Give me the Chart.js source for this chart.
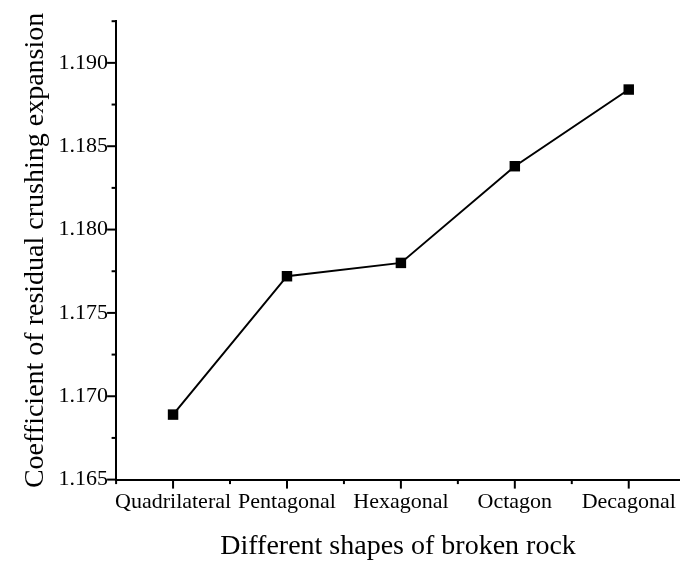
<!DOCTYPE html>
<html>
<head>
<meta charset="utf-8">
<script src="https://cdn.jsdelivr.net/npm/chart.js@4.4.1/dist/chart.umd.min.js"></script>
<style>
  html, body { margin: 0; padding: 0; background: #fff; overflow: hidden; }
  #wrap { width: 680px; height: 561px; }
</style>
</head>
<body>
<div id="wrap"><canvas id="c" width="680" height="561"></canvas></div>
<script>
const categories = ['Quadrilateral', 'Pentagonal', 'Hexagonal', 'Octagon', 'Decagonal'];
const values = [1.1689, 1.1772, 1.1780, 1.1838, 1.1884];
const yMajorTicks = [1.165, 1.170, 1.175, 1.180, 1.185, 1.190];
const yMinorTicks = [1.1675, 1.1725, 1.1775, 1.1825, 1.1875, 1.1925];
const xMinorTicks = [-0.5, 0.5, 1.5, 2.5, 3.5];
const yTitle = 'Coefficient of residual crushing expansion';
const xTitle = 'Different shapes of broken rock';

const FONT = "'Liberation Serif', 'Times New Roman', serif";
const xMajorTicks = categories.map((_, i) => i);

const tickPlugin = {
  id: 'customTicks',
  afterDraw(chart) {
    const ctx = chart.ctx;
    const area = chart.chartArea;
    const xs = chart.scales.x, ys = chart.scales.y;
    ctx.save();
    ctx.strokeStyle = '#000';
    ctx.lineWidth = 2;
    ys.ticks.forEach(t => {
      const major = yMajorTicks.some(v => Math.abs(v - t.value) < 1e-7);
      const py = ys.getPixelForValue(t.value);
      const len = major ? 9 : 4.5;
      ctx.beginPath();
      ctx.moveTo(area.left, py);
      ctx.lineTo(area.left - len, py);
      ctx.stroke();
    });
    xs.ticks.forEach(t => {
      const major = xMajorTicks.some(v => Math.abs(v - t.value) < 1e-7);
      const px = xs.getPixelForValue(t.value);
      const len = major ? 9 : 4.5;
      ctx.beginPath();
      ctx.moveTo(px, area.bottom);
      ctx.lineTo(px, area.bottom + len);
      ctx.stroke();
    });
    ctx.restore();
  }
};

new Chart(document.getElementById('c'), {
  type: 'line',
  data: {
    datasets: [{
      data: values.map((v, i) => ({ x: i, y: v })),
      borderColor: '#000',
      backgroundColor: '#000',
      borderWidth: 2,
      pointStyle: 'rect',
      pointRadius: 7.4,
      pointHoverRadius: 7.4,
      pointBorderWidth: 0,
      tension: 0,
      clip: false
    }]
  },
  options: {
    responsive: false,
    animation: false,
    devicePixelRatio: 1,
    layout: { autoPadding: false, padding: { left: 19, top: 20, right: 0, bottom: 0 } },
    plugins: { legend: { display: false }, tooltip: { enabled: false } },
    scales: {
      x: {
        type: 'linear',
        min: -0.5,
        max: 4.45,
        afterBuildTicks: s => {
          s.ticks = xMajorTicks.concat(xMinorTicks).sort((a, b) => a - b).map(v => ({ value: v }));
        },
        afterFit: s => { s.paddingRight = 0; s.paddingLeft = 0; },
        ticks: {
          autoSkip: false,
          maxRotation: 0,
          minRotation: 0,
          padding: 9,
          color: '#000',
          font: { family: FONT, size: 22 },
          callback: v => {
            const i = Math.round(v);
            return Math.abs(v - i) < 1e-7 && categories[i] !== undefined ? categories[i] : '';
          }
        },
        grid: { display: false, drawTicks: false },
        border: { display: true, color: '#000', width: 2 },
        title: {
          display: true,
          text: xTitle,
          color: '#000',
          font: { family: FONT, size: 28, lineHeight: 1.0 },
          padding: { top: 9, bottom: 0 }
        }
      },
      y: {
        type: 'linear',
        min: 1.165,
        max: 1.1925,
        afterBuildTicks: s => {
          s.ticks = yMajorTicks.concat(yMinorTicks).sort((a, b) => a - b).map(v => ({ value: v }));
        },
        ticks: {
          padding: 8,
          color: '#000',
          font: { family: FONT, size: 22 },
          callback: v => yMajorTicks.some(m => Math.abs(m - v) < 1e-7) ? v.toFixed(3) : ''
        },
        grid: { display: false, drawTicks: false },
        border: { display: true, color: '#000', width: 2 },
        title: {
          display: true,
          text: yTitle,
          color: '#000',
          font: { family: FONT, size: 28 },
          padding: { top: 0, bottom: -2 }
        }
      }
    }
  },
  plugins: [tickPlugin]
});
</script>
</body>
</html>
